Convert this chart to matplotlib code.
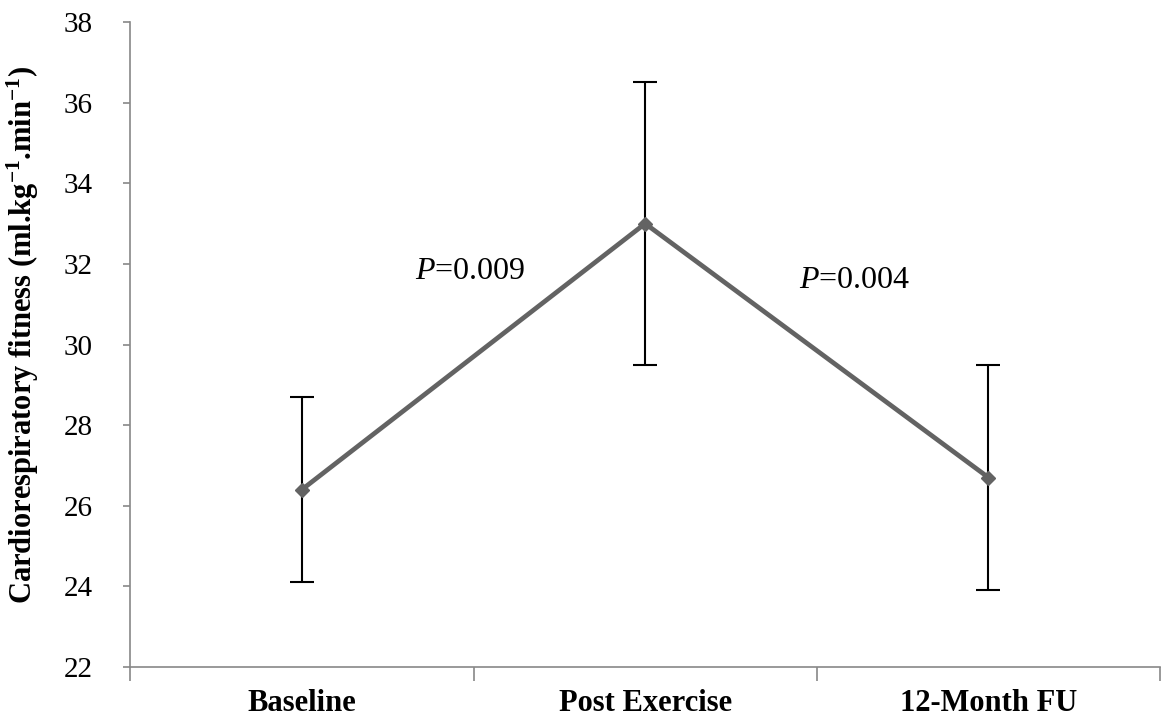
import matplotlib
matplotlib.use("Agg")
import matplotlib.pyplot as plt

categories = ["Baseline", "Post Exercise", "12-Month FU"]
means = [26.4, 33.0, 26.7]
lower = [24.1, 29.5, 23.9]
upper = [28.7, 36.5, 29.5]
p_labels = ["0.009", "0.004"]

plt.rcParams['font.family'] = ['Liberation Serif', 'DejaVu Serif']
plt.rcParams['mathtext.fontset'] = 'custom'
plt.rcParams['mathtext.rm'] = 'Liberation Serif'
plt.rcParams['mathtext.it'] = 'Liberation Serif:italic'
plt.rcParams['mathtext.bf'] = 'Liberation Serif:bold'

fig = plt.figure(figsize=(11.73, 7.19), dpi=100)
ax = fig.add_axes([0.111, 0.0723, 0.878, 0.8971])

x = list(range(len(categories)))
yerr = [[m - l for m, l in zip(means, lower)], [u - m for m, u in zip(means, upper)]]
ax.errorbar(x, means, yerr=yerr, fmt='none', ecolor='black', elinewidth=1.5,
            capsize=8.5, capthick=1.5, zorder=2)
ax.plot(x, means, color='#636363', lw=3.4, marker='D', markersize=7.5,
        markerfacecolor='#636363', markeredgecolor='#636363', zorder=3)

ax.set_xlim(-0.5, 2.5)
ax.set_ylim(22, 38)
ax.set_yticks(range(22, 39, 2))
ax.tick_params(axis='y', labelsize=21, length=5, color='#888888', width=1.2, pad=22)

ax.set_xticks([-0.5, 0.5, 1.5, 2.5])
ax.set_xticklabels([])
ax.tick_params(axis='x', which='major', length=10, color='#888888', width=1.2)
ax.set_xticks(x, minor=True)
ax.set_xticklabels(categories, minor=True, fontsize=22, fontweight='bold')
ax.tick_params(axis='x', which='minor', length=0, pad=16)

for s in ['top', 'right']:
    ax.spines[s].set_visible(False)
for s in ['left', 'bottom']:
    ax.spines[s].set_color('#888888')
    ax.spines[s].set_linewidth(1.2)

ax.set_ylabel(r'Cardiorespiratory fitness (ml.kg$^{\mathbf{-1}}$.min$^{\mathbf{-1}}$)',
              fontsize=22, fontweight='bold')
ax.yaxis.set_label_coords(-0.087, 0.515)

ax.text(0.49, 31.8, r'$\it{P}$=' + p_labels[0], fontsize=23, ha='center', va='center')
ax.text(1.61, 31.6, r'$\it{P}$=' + p_labels[1], fontsize=23, ha='center', va='center')

fig.savefig('out.png', dpi=100)
